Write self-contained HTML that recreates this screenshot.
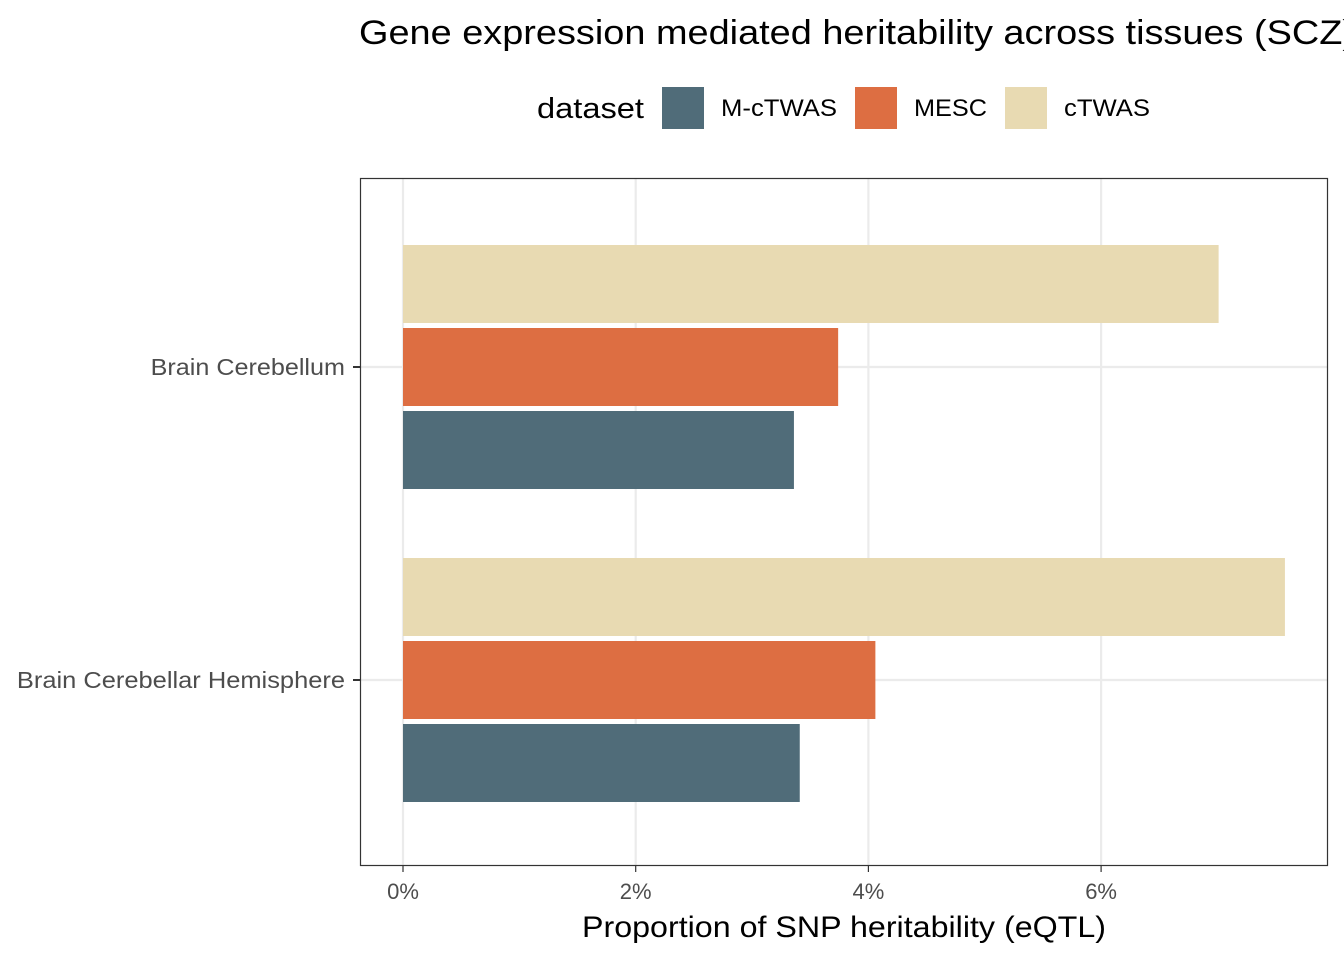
<!DOCTYPE html>
<html><head><meta charset="utf-8"><style>
body{margin:0;background:#fff;font-family:"Liberation Sans",sans-serif;}
svg text{font-family:"Liberation Sans",sans-serif;}
</style></head><body>
<svg id="chart" width="1344" height="960">
<text x="359" y="44" font-size="34" fill="#000" textLength="996" lengthAdjust="spacingAndGlyphs">Gene expression mediated heritability across tissues (SCZ)</text>
<g>
<text x="537" y="118" font-size="29" fill="#000" textLength="107" lengthAdjust="spacingAndGlyphs">dataset</text>
<rect x="662" y="87" width="42" height="42" fill="#506C79"/>
<text x="721" y="116" font-size="24" fill="#000" textLength="116" lengthAdjust="spacingAndGlyphs">M-cTWAS</text>
<rect x="855" y="87" width="42" height="42" fill="#DD6E42"/>
<text x="914" y="116" font-size="24" fill="#000" textLength="73" lengthAdjust="spacingAndGlyphs">MESC</text>
<rect x="1005" y="87" width="42" height="42" fill="#E8DAB2"/>
<text x="1064" y="116" font-size="24" fill="#000" textLength="86" lengthAdjust="spacingAndGlyphs">cTWAS</text>
</g>
<g id="grid"></g>
<g id="bars"></g>
<rect x="360.5" y="178.5" width="967" height="687" fill="none" stroke="#333" stroke-width="1.2"/>
<g id="axes"></g>
<text x="582" y="937" font-size="30" fill="#000" textLength="524" lengthAdjust="spacingAndGlyphs">Proportion of SNP heritability (eQTL)</text>
</svg>
<script>
const categories = ["Brain Cerebellum", "Brain Cerebellar Hemisphere"];
const seriesNames = ["cTWAS", "MESC", "M-cTWAS"];
const ctwasValues = [7.01, 7.58];
const mescValues = [3.74, 4.06];
const mctwasValues = [3.36, 3.41];
const xTicks = [0, 2, 4, 6];
const xTickLabels = ["0%", "2%", "4%", "6%"];

const colors = {"cTWAS":"#E8DAB2","MESC":"#DD6E42","M-cTWAS":"#506C79"};
const ns = "http://www.w3.org/2000/svg";
const x = v => 403 + v * 116.35;
const yCenter = i => 367 + i * 313;
const barH = 78, step = 83;
function mk(tag, attrs, parent){const e=document.createElementNS(ns,tag);for(const k in attrs)e.setAttribute(k,attrs[k]);parent.appendChild(e);return e;}
const grid = document.getElementById('grid'), bars = document.getElementById('bars'), axes = document.getElementById('axes');
mk('rect',{x:361,y:179,width:966,height:686,fill:'#fff'},grid);
for (let i=0;i<xTicks.length;i++){
  const l = mk('line',{x1:x(xTicks[i]),x2:x(xTicks[i]),y1:179,y2:865,stroke:'#EBEBEB','stroke-width':2.2},grid);
  
  
  const t = mk('line',{x1:x(xTicks[i]),x2:x(xTicks[i]),y1:866,y2:872,stroke:'#333','stroke-width':1.2},axes);
  
  
  const tl = mk('text',{x:x(xTicks[i]),y:899,'font-size':22,'text-anchor':'middle',fill:'#4D4D4D'},axes);
  tl.textContent = xTickLabels[i];
  
  
}
const seriesVals = [ctwasValues, mescValues, mctwasValues];
for (let c=0;c<categories.length;c++){
  const yc = yCenter(c);
  const g = mk('line',{x1:361,x2:1327,y1:yc,y2:yc,stroke:'#EBEBEB','stroke-width':2.2},grid);
  
  
  for (let s=0;s<3;s++){
    const top = yc - barH/2 + (s-1)*step;
    const r = mk('rect',{x:x(0),y:top,width:x(seriesVals[s][c])-x(0),height:barH,fill:colors[seriesNames[s]]},bars);
    
    
  }
  const t = mk('line',{x1:353,x2:360,y1:yc,y2:yc,stroke:'#333','stroke-width':2},axes);
  
  
  const tl = mk('text',{x:345,y:yc+8,'font-size':23,'text-anchor':'end',fill:'#4D4D4D'},axes);
  tl.textContent = categories[c];
  tl.setAttribute('textLength', String(categories[c].length * 12.15));
  tl.setAttribute('lengthAdjust','spacingAndGlyphs');
  
  
}
</script>
</body></html>
